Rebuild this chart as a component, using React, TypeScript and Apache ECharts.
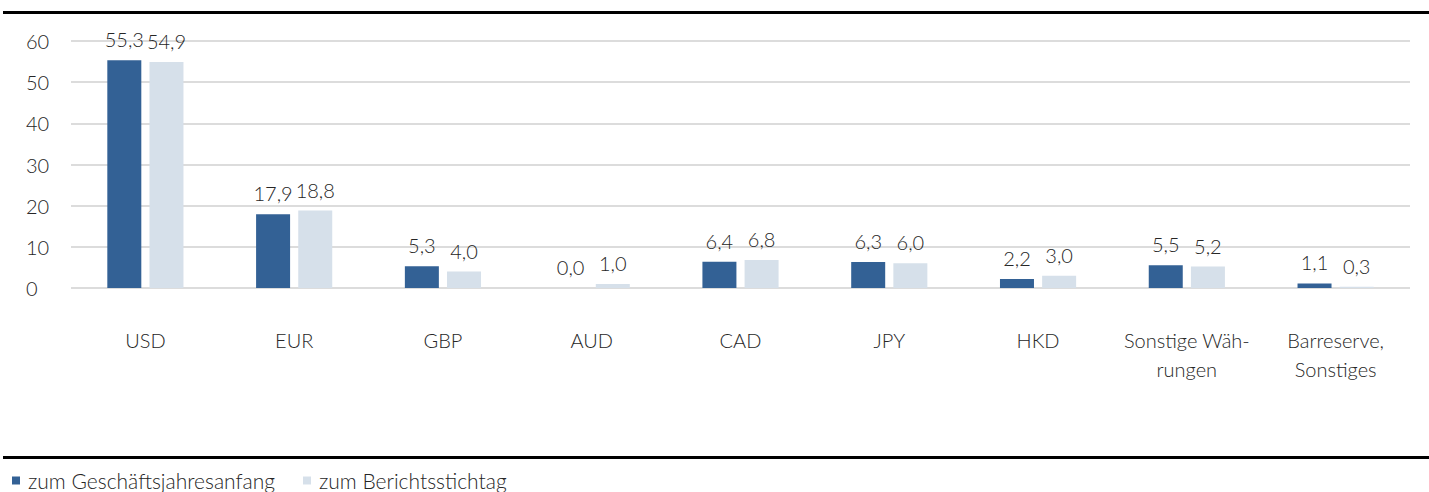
import React, { useEffect, useRef } from "react";
import * as echarts from "echarts";

const categories = [
  "USD",
  "EUR",
  "GBP",
  "AUD",
  "CAD",
  "JPY",
  "HKD",
  "Sonstige Wäh-\nrungen",
  "Barreserve,\nSonstiges",
];
const seriesNames = ["zum Geschäftsjahresanfang", "zum Berichtsstichtag"];
const startValues = [55.3, 17.9, 5.3, 0.0, 6.4, 6.3, 2.2, 5.5, 1.1];
const reportValues = [54.9, 18.8, 4.0, 1.0, 6.8, 6.0, 3.0, 5.2, 0.3];
const yTicks = { min: 0, max: 60, interval: 10 };

const FONT = "Lato, 'Noto Sans', sans-serif";
const TEXT = "#262626";
const FS = 20;
const FW = 300;

export default function App() {
  const ref = useRef<HTMLDivElement>(null);
  useEffect(() => {
    if (!ref.current) return;
    const chart = echarts.init(ref.current, null, { renderer: "svg" });
    const fmt = (p: any) => Number(p.value).toFixed(1).replace(".", ",");
    const labelStyle = {
      show: true,
      position: "top",
      distance: 11,
      formatter: fmt,
      fontFamily: FONT,
      fontSize: FS,
      fontWeight: FW,
      color: TEXT,
    };
    chart.setOption({
      animation: false,
      textStyle: { fontFamily: FONT, color: TEXT },
      grid: { left: 71, right: 19, top: 41, bottom: 204, containLabel: false },
      legend: {
        left: 12,
        top: 470,
        padding: 0,
        itemWidth: 8,
        itemHeight: 8,
        itemGap: 28,
        icon: "rect",
        textStyle: {
          fontFamily: FONT,
          fontSize: 21,
          fontWeight: FW,
          color: TEXT,
          padding: [0, 0, 0, 3],
        },
        data: seriesNames,
      },
      xAxis: {
        type: "category",
        data: categories,
        axisLine: { show: false },
        axisTick: { show: false },
        axisLabel: {
          fontFamily: FONT,
          fontSize: FS,
          fontWeight: FW,
          color: TEXT,
          margin: 37,
          lineHeight: 29,
          interval: 0,
        },
      },
      yAxis: {
        type: "value",
        min: yTicks.min,
        max: yTicks.max,
        interval: yTicks.interval,
        axisLine: { show: false },
        axisTick: { show: false },
        splitLine: { lineStyle: { color: "#dcdcdc", width: 2 } },
        axisLabel: {
          fontFamily: FONT,
          fontSize: FS,
          fontWeight: FW,
          color: TEXT,
          align: "left",
          margin: 45,
        },
      },
      graphic: [
        { type: "rect", shape: { x: 3, y: 11, width: 1426, height: 3 }, style: { fill: "#000" } },
        { type: "rect", shape: { x: 3, y: 456, width: 1426, height: 3 }, style: { fill: "#000" } },
      ],
      series: [
        {
          name: seriesNames[0],
          type: "bar",
          data: startValues,
          barWidth: 34,
          barGap: "24%",
          itemStyle: { color: "#336195" },
          label: labelStyle,
        },
        {
          name: seriesNames[1],
          type: "bar",
          data: reportValues,
          barWidth: 34,
          itemStyle: { color: "#d6e0ea" },
          label: labelStyle,
        },
      ],
    });
    return () => chart.dispose();
  }, []);
  return (
    <div
      ref={ref}
      style={{ position: "fixed", left: 0, top: 0, width: 1429, height: 492, background: "#fff" }}
    />
  );
}
